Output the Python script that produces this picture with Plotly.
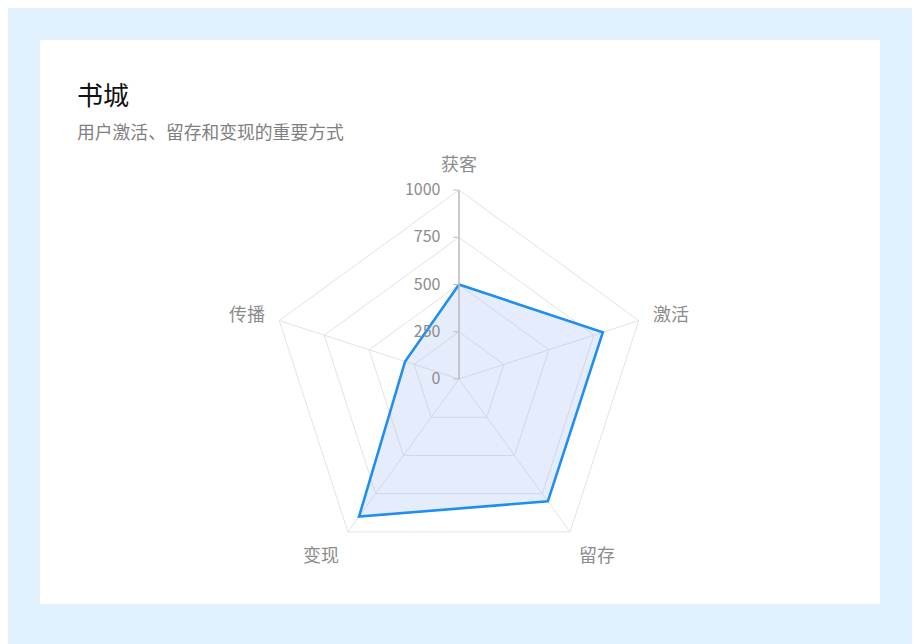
import plotly.graph_objects as go

# 雷达图数据
categories = ["获客", "激活", "留存", "变现", "传播"]
values = [500, 800, 800, 900, 300]
radial_ticks = [0, 250, 500, 750, 1000]

W, H = 920, 644
SHIFT = 8          # 页面 body 默认有 8px 边距，整体往左上挪
FONT = "Noto Sans CJK SC, Noto Sans, sans-serif"
GRID = "#e3e3e3"
LABEL = "#8c8c8c"


def px_x(x):
    return (x - SHIFT) / W


def px_y(y):
    return 1 - (y - SHIFT) / H


# 雷达中心与半径（像素）
cx, cy, R = 459, 379, 189

fig = go.Figure()

fig.add_trace(go.Scatterpolar(
    r=values + values[:1],
    theta=categories + categories[:1],
    mode="lines",
    fill="toself",
    fillcolor="rgba(160,188,240,0.28)",
    line=dict(color="#1e8ff0", width=2.6),
    hoverinfo="r+theta",
    name="书城",
))

fig.update_layout(
    width=W, height=H,
    margin=dict(l=0, r=0, t=0, b=0),
    paper_bgcolor="#e1f1fe",
    showlegend=False,
    font=dict(family=FONT, color=LABEL, size=16),
    shapes=[dict(
        type="rect", xref="paper", yref="paper",
        x0=px_x(40), x1=px_x(880), y0=px_y(604), y1=px_y(40),
        fillcolor="#ffffff", line=dict(width=0), layer="below",
    )],
    annotations=[
        dict(text="书城", xref="paper", yref="paper",
             x=px_x(75), y=px_y(94), xanchor="left", yanchor="middle",
             showarrow=False, font=dict(size=26, color="#111111", family=FONT)),
        dict(text="用户激活、留存和变现的重要方式", xref="paper", yref="paper",
             x=px_x(75), y=px_y(131), xanchor="left", yanchor="middle",
             showarrow=False, font=dict(size=17.8, color="#808080", family=FONT)),
    ],
    polar=dict(
        domain=dict(x=[px_x(cx - R), px_x(cx + R)],
                    y=[px_y(cy + R), px_y(cy - R)]),
        bgcolor="rgba(0,0,0,0)",
        gridshape="linear",
        radialaxis=dict(
            range=[0, 1000],
            tickvals=radial_ticks,
            ticktext=[f"{v}&nbsp;&nbsp;" for v in radial_ticks],
            angle=90,
            tickangle=90,
            side="counterclockwise",
            ticks="outside",
            ticklen=5,
            tickcolor="#bdbdbd",
            showline=True,
            linecolor="#bdbdbd",
            linewidth=1.5,
            gridcolor=GRID,
            tickfont=dict(size=16, color=LABEL),
        ),
        angularaxis=dict(
            rotation=90,
            direction="clockwise",
            showline=True,
            linecolor=GRID,
            gridcolor=GRID,
            ticks="outside",
            ticklen=11,
            tickcolor="rgba(0,0,0,0)",
            tickfont=dict(size=18, color=LABEL),
        ),
    ),
)

fig.write_html("out.html")
